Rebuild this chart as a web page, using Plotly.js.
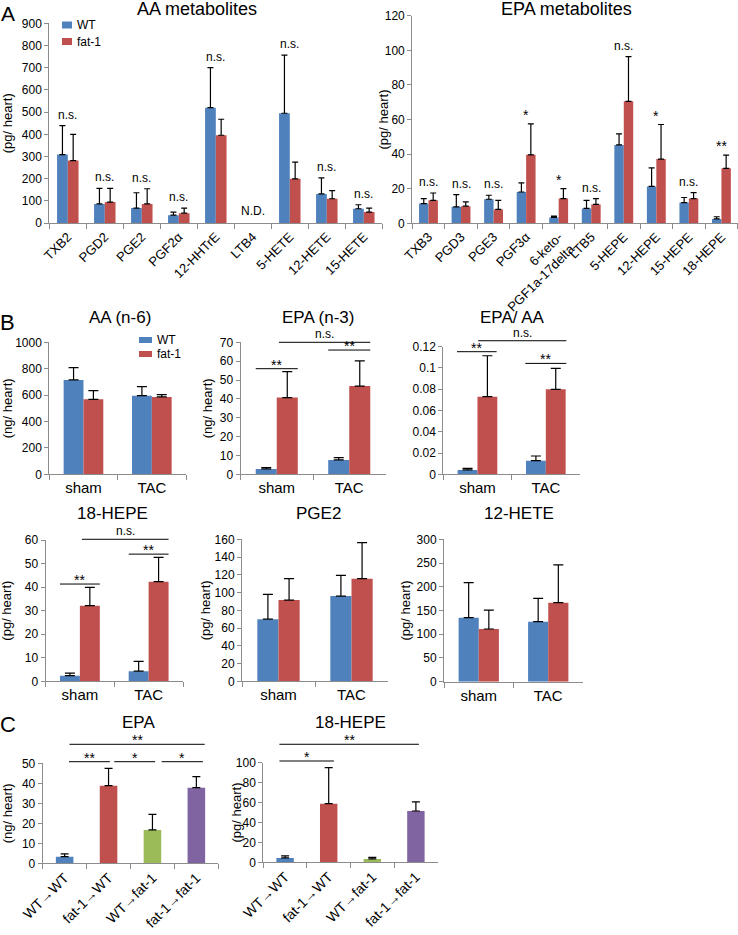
<!DOCTYPE html>
<html><head><meta charset="utf-8">
<script src="https://cdn.plot.ly/plotly-3.0.1.min.js"></script>
<style>html,body{margin:0;padding:0;background:#fff}#chart{width:738px;height:935px}</style>
</head><body><div id="chart"></div>
<script>
// ================= DATA =================
// Panel A – AA metabolites (pg/heart), mean and SD (upper error)
const aaCats   = ['TXB2','PGD2','PGE2','PGF2α','12-HHTrE','LTB4','5-HETE','12-HETE','15-HETE'];
const aaWT     = [309, 87, 68, 36, 520, null, 495, 132, 65];
const aaWTsd   = [130, 70, 69, 14, 180, null, 262, 72, 18];
const aaFat    = [282, 95, 87, 45, 396, null, 200, 110, 50];
const aaFatsd  = [118, 62, 68, 23, 72, null, 75, 37, 18];
const aaSig    = ['n.s.','n.s.','n.s.','n.s.','n.s.','N.D.','n.s.','n.s.','n.s.'];

// Panel A – EPA metabolites (pg/heart)
const epaCats  = ['TXB3','PGD3','PGE3','PGF3α','6-keto-<br>PGF1a-17delta','LTB5','5-HEPE','12-HEPE','15-HEPE','18-HEPE'];
const epaWT    = [11.4, 9.5, 13.9, 18.1, 3.4, 8.6, 45.3, 21.3, 12.0, 2.5];
const epaWTsd  = [2.9, 7.1, 2.3, 5.3, 0.8, 4.7, 6.4, 10.7, 2.9, 1.3];
const epaFat   = [13.3, 9.9, 8.0, 39.6, 14.3, 10.9, 70.5, 37.1, 14.3, 31.8];
const epaFatsd = [4.2, 2.5, 5.3, 17.9, 5.7, 3.4, 25.8, 20.0, 3.4, 7.6];
const epaSig   = ['n.s.','n.s.','n.s.','*','*','n.s.','n.s.','*','n.s.','**'];

// Panel B – sham / TAC
const bGroups   = ['sham','TAC'];
const aaN6WT    = [715, 596];     const aaN6WTsd  = [93, 68];
const aaN6Fat   = [568, 586];     const aaN6Fatsd = [66, 18];
const epaN3WT   = [2.8, 7.6];     const epaN3WTsd = [0.7, 1.2];
const epaN3Fat  = [40.7, 46.8];   const epaN3Fatsd= [13.7, 13.3];
const ratioWT   = [0.0041, 0.0128]; const ratioWTsd  = [0.0015, 0.0044];
const ratioFat  = [0.073, 0.0799];  const ratioFatsd = [0.0385, 0.0197];
const hepeWT    = [2.4, 4.3];     const hepeWTsd  = [1.1, 4.2];
const hepeFat   = [32.1, 42.3];   const hepeFatsd = [7.8, 10.3];
const pge2WT    = [70, 96];       const pge2WTsd  = [28, 23.4];
const pge2Fat   = [91.5, 115.6];  const pge2Fatsd = [24.1, 40.7];
const hete12WT  = [134.9, 126.5]; const hete12WTsd  = [73.8, 49.1];
const hete12Fat = [111, 166.5];   const hete12Fatsd = [40, 79.5];

// Panel C – bone marrow transplantation
const cCats    = ['WT→WT','fat-1→WT','WT→fat-1','fat-1→fat-1'];
const cEPA     = [3.3, 38.8, 16.7, 37.8];
const cEPAsd   = [1.4, 8.7, 7.8, 5.5];
const cHEPE    = [4.4, 58.9, 3.4, 51.5];
const cHEPEsd  = [2.0, 36.1, 1.6, 9.1];

// ================= STYLE / LAYOUT =================
const W = 738, H = 935;
const FONT = '"Liberation Sans", Arial, sans-serif';
const BLUE = '#4F81BD', RED = '#C0504D', GREEN = '#9BBB59', PURPLE = '#8064A2';
const AXIS = '#8C8C8C';

const panels = [
  {px:[49.3,382.3], py:[23.3,223.2], range:[0,900], dtick:100, cats:aaCats, tickangle:-45, tickfont:13,
   series:[[aaWT,aaWTsd,BLUE],[aaFat,aaFatsd,RED]], barW:0.29, cap:3, sig:aaSig,
   ylab:'(pg/ heart)', ylabX:7, title:'AA metabolites', titleX:197, titleY:9, titleSize:18},
  {px:[412.2,737.7], py:[15.7,223.3], range:[0,120], dtick:20, cats:epaCats, tickangle:-45, tickfont:13,
   series:[[epaWT,epaWTsd,BLUE],[epaFat,epaFatsd,RED]], barW:0.29, cap:3, sig:epaSig,
   ylab:'(pg/ heart)', ylabX:383, title:'EPA metabolites', titleX:566, titleY:9, titleSize:18},
  {px:[49.3,186], py:[342.3,474.3], range:[0,1000], dtick:200, cats:bGroups, tickangle:0, tickfont:15,
   series:[[aaN6WT,aaN6WTsd,BLUE],[aaN6Fat,aaN6Fatsd,RED]], barW:0.29, cap:5,
   ylab:'(ng/ heart)', ylabX:7, title:'AA (n-6)', titleX:120, titleY:317, titleSize:17},
  {px:[240.5,385.5], py:[342.3,474.3], range:[0,70], dtick:10, cats:bGroups, tickangle:0, tickfont:15,
   series:[[epaN3WT,epaN3WTsd,BLUE],[epaN3Fat,epaN3Fatsd,RED]], barW:0.29, cap:5,
   ylab:'(ng/ heart)', ylabX:207, title:'EPA (n-3)', titleX:318, titleY:317, titleSize:17,
   brackets:[[-0.29,0.29,56,'**'],[0.71,1.29,65.9,'**'],[0.03,1.29,70,'n.s.']]},
  {px:[443.3,580], py:[346.7,474.3], range:[0,0.1200001], dtick:0.02, cats:bGroups, tickangle:0, tickfont:15,
   series:[[ratioWT,ratioWTsd,BLUE],[ratioFat,ratioFatsd,RED]], barW:0.29, cap:5,
   title:'EPA/ AA', titleX:512, titleY:317, titleSize:17,
   brackets:[[-0.3,0.28,0.1153,'**'],[0.7,1.3,0.1043,'**'],[0.01,1.3,0.1256,'n.s.']]},
  {px:[45.5,183], py:[540,681.3], range:[0,60], dtick:10, cats:bGroups, tickangle:0, tickfont:15,
   series:[[hepeWT,hepeWTsd,BLUE],[hepeFat,hepeFatsd,RED]], barW:0.29, cap:5,
   ylab:'(pg/ heart)', ylabX:7, title:'18-HEPE', titleX:112, titleY:513, titleSize:17,
   brackets:[[-0.29,0.29,41.3,'**'],[0.71,1.29,54,'**'],[0.03,1.29,60.3,'n.s.']]},
  {px:[242,388], py:[539.3,681.3], range:[0,160], dtick:20, cats:bGroups, tickangle:0, tickfont:15,
   series:[[pge2WT,pge2WTsd,BLUE],[pge2Fat,pge2Fatsd,RED]], barW:0.29, cap:5,
   ylab:'(pg/ heart)', ylabX:205, title:'PGE2', titleX:318, titleY:513, titleSize:17},
  {px:[444,583], py:[539.3,681.7], range:[0,300], dtick:50, cats:bGroups, tickangle:0, tickfont:15,
   series:[[hete12WT,hete12WTsd,BLUE],[hete12Fat,hete12Fatsd,RED]], barW:0.29, cap:5,
   ylab:'(pg/ heart)', ylabX:405, title:'12-HETE', titleX:519, titleY:513, titleSize:17},
  {px:[42.7,218.3], py:[763.3,863.3], range:[0,50], dtick:10, cats:cCats, tickangle:-45, tickfont:14,
   series:[[cEPA,cEPAsd,[BLUE,RED,GREEN,PURPLE]]], barW:0.4, cap:4,
   ylab:'(ng/ heart)', ylabX:7, title:'EPA', titleX:138, titleY:722, titleSize:17,
   brackets:[[0.1,1.03,50.8,'**'],[1.13,2.06,50.8,'*'],[2.21,3.15,50.8,'*'],[0.11,3.19,59.5,'**']]},
  {px:[263.3,437.7], py:[762.7,862.3], range:[0,100], dtick:20, cats:cCats, tickangle:-45, tickfont:14,
   series:[[cHEPE,cHEPEsd,[BLUE,RED,GREEN,PURPLE]]], barW:0.4, cap:4,
   ylab:'(pg/ heart)', ylabX:236, title:'18-HEPE', titleX:350, titleY:722, titleSize:17,
   brackets:[[-0.13,1.12,101.7,'*'],[-0.13,3.07,118.5,'**']]}
];

const data = [], shapes = [], annotations = [];
const layout = {
  width: W, height: H, margin: {l:0, r:0, t:0, b:0},
  paper_bgcolor: '#ffffff', plot_bgcolor: 'rgba(0,0,0,0)',
  showlegend: false, barmode: 'overlay',
  font: {family: FONT, color: '#000', size: 12}
};

function txt(text, x, y, size, extra) {
  return Object.assign({text: text, x: x / W, y: 1 - y / H, xref: 'paper', yref: 'paper',
    showarrow: false, xanchor: 'center', yanchor: 'middle', font: {family: FONT, size: size, color: '#000'}}, extra || {});
}

panels.forEach((p, i) => {
  const k = i === 0 ? '' : String(i + 1);
  const xa = 'x' + k, ya = 'y' + k;
  const n = p.cats.length;
  layout['xaxis' + k] = {
    domain: [p.px[0] / W, p.px[1] / W], anchor: ya, type: 'category',
    categoryorder: 'array', categoryarray: p.cats, range: [-0.5, n - 0.5],
    showline: true, linecolor: AXIS, linewidth: 1, ticks: 'outside', tickson: 'boundaries',
    ticklen: 5, tickcolor: AXIS, tickwidth: 1, showgrid: false, zeroline: false,
    tickangle: p.tickangle, tickfont: {family: FONT, size: p.tickfont, color: '#000'},
    fixedrange: true, automargin: false
  };
  layout['yaxis' + k] = {
    domain: [1 - p.py[1] / H, 1 - p.py[0] / H], anchor: xa, range: p.range,
    dtick: p.dtick, tick0: 0, showline: true, linecolor: AXIS, linewidth: 1,
    ticks: 'outside', ticklen: 4, tickcolor: AXIS, showgrid: false, zeroline: false,
    tickfont: {family: FONT, size: 12, color: '#000'}, fixedrange: true, automargin: false
  };
  const ns = p.series.length;
  p.series.forEach((s, j) => {
    const offset = ns === 1 ? -p.barW / 2 : (j === 0 ? -p.barW : 0);
    data.push({
      type: 'bar', x: p.cats, y: s[0], xaxis: xa, yaxis: ya,
      width: p.barW, offset: offset,
      marker: {color: s[2], line: {width: 0}},
      error_y: {type: 'data', symmetric: false, array: s[1], arrayminus: s[1].map(() => 0),
                color: '#000', thickness: 1.2, width: p.cap},
      hoverinfo: 'skip'
    });
  });
  // significance labels above groups (panel A)
  if (p.sig) {
    p.sig.forEach((label, c) => {
      let top = 0;
      p.series.forEach(s => { if (s[0][c] != null) top = Math.max(top, s[0][c] + s[1][c]); });
      const star = label.indexOf('*') >= 0;
      annotations.push({text: label, x: c, y: top, xref: xa, yref: ya, showarrow: false,
        xanchor: 'center', yanchor: 'bottom', yshift: label === 'N.D.' ? 3 : (star ? -1 : 2),
        font: {family: FONT, size: star ? 14 : 12, color: '#000'}});
    });
  }
  // brackets (panels B, C)
  if (p.brackets) {
    const ymax = p.range[1];
    p.brackets.forEach(b => {
      const x0 = (b[0] + 0.5) / n, x1 = (b[1] + 0.5) / n, yy = b[2] / ymax;
      shapes.push({type: 'line', xref: xa + ' domain', yref: ya + ' domain',
        x0: x0, x1: x1, y0: yy, y1: yy, line: {color: '#000', width: 1}});
      const star = b[3].indexOf('*') >= 0;
      annotations.push({text: b[3], x: (x0 + x1) / 2, y: yy, xref: xa + ' domain', yref: ya + ' domain',
        showarrow: false, xanchor: 'center', yanchor: 'bottom', yshift: star ? -6 : -1,
        font: {family: FONT, size: star ? 14 : 12, color: '#000'}});
    });
  }
  // axis title
  if (p.ylab) {
    annotations.push(txt(p.ylab, p.ylabX, (p.py[0] + p.py[1]) / 2, 13, {textangle: -90}));
  }
  // panel title
  annotations.push(txt(p.title, p.titleX, p.titleY, p.titleSize));
});

// panel letters
annotations.push(txt('A', 8, 0, 21, {yanchor: 'top'}));
annotations.push(txt('B', 7, 322, 22));
annotations.push(txt('C', 8, 724, 22));

// legends (panel A and panel B)
function legend(x, yWT, yFat, sw, sh) {
  [[yWT, BLUE, 'WT'], [yFat, RED, 'fat-1']].forEach(it => {
    shapes.push({type: 'rect', xref: 'paper', yref: 'paper',
      x0: x / W, x1: (x + sw) / W, y0: 1 - (it[0] + sh / 2) / H, y1: 1 - (it[0] - sh / 2) / H,
      fillcolor: it[1], line: {width: 0}});
    annotations.push(txt(it[2], x + sw + 3, it[0], 12, {xanchor: 'left'}));
  });
}
legend(62, 25, 41.5, 10, 7);
legend(139, 340, 354, 13, 6);

layout.shapes = shapes;
layout.annotations = annotations;

Plotly.newPlot('chart', data, layout, {staticPlot: true, displayModeBar: false});
</script>
</body></html>
